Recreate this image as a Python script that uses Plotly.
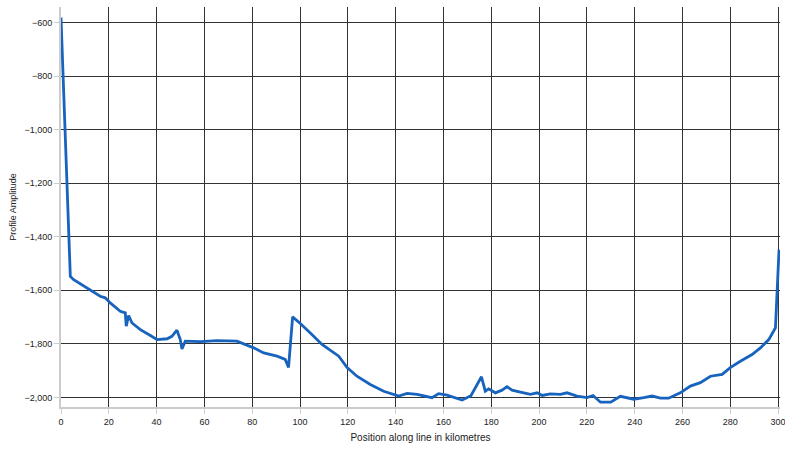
import plotly.graph_objects as go

position_km = [0, 0.4, 1.0, 1.8, 2.5, 3.2, 3.9, 5.3, 8.8, 11.5, 16.4, 18.5, 20.6, 24.8, 26.9, 27.3, 28.3,
               29.7, 33.2, 37.4, 40.2, 44.4, 46.4, 48.5, 49.9, 50.6, 52.0, 58.3, 65.3, 73.6, 76.4,
               80.6, 84.8, 90.4, 93.8, 95.2, 96.9, 98.7, 100.1, 104.3, 109.2, 116.2, 119.7, 123.8,
               129.4, 135.0, 139.2, 141.3, 144.8, 149.0, 155.2, 158.0, 161.5, 164.3, 167.8, 171.5,
               174.1, 175.9, 177.5, 178.9, 181.7, 184.5, 186.6, 188.7, 192.2, 196.4, 199.2, 201.3,
               204.7, 208.9, 211.7, 215.9, 220.1, 222.6, 225.7, 230.0, 234.0, 239.6, 243.8, 247.3,
               250.8, 254.2, 259.1, 263.3, 267.5, 271.7, 276.6, 280.0, 284.2, 289.1, 292.6, 296.1,
               298.9, 299.3, 299.7, 300.4]
amplitude = [-580, -677, -801, -1000, -1199, -1398, -1548, -1560, -1579, -1597, -1622, -1628, -1647,
             -1678, -1684, -1734, -1694, -1722, -1747, -1769, -1784, -1781, -1772, -1749, -1784,
             -1819, -1790, -1792, -1788, -1790, -1799, -1815, -1834, -1846, -1858, -1888, -1699,
             -1712, -1724, -1759, -1802, -1846, -1889, -1921, -1952, -1977, -1989, -1995, -1985,
             -1989, -2001, -1986, -1992, -2001, -2010, -1994, -1952, -1923, -1977, -1968, -1983,
             -1973, -1960, -1973, -1980, -1989, -1983, -1993, -1987, -1989, -1983, -1995, -2001,
             -1993, -2018, -2018, -1996, -2007, -2001, -1995, -2003, -2003, -1983, -1958, -1945,
             -1921, -1914, -1889, -1865, -1840, -1815, -1784, -1740, -1660, -1535, -1448]

x_ticks = list(range(0, 301, 20))
y_ticks = [-600, -800, -1000, -1200, -1400, -1600, -1800, -2000]

fig = go.Figure()
fig.add_trace(go.Scatter(x=position_km, y=amplitude, mode="lines",
                         line=dict(color="#1763bd", width=2.8), showlegend=False,
                         hoverinfo="x+y"))

axis_font = dict(family="Liberation Sans, Arial, sans-serif", size=10, color="#222222")
fig.update_layout(
    width=785, height=457,
    margin=dict(l=61, r=5, t=7, b=50, autoexpand=False),
    paper_bgcolor="white", plot_bgcolor="white",
    font=axis_font,
    xaxis=dict(range=[0, 300.8], tickvals=x_ticks, showgrid=True, gridcolor="#333333",
               gridwidth=1.3, zeroline=False, showline=True, linecolor="#cccccc", linewidth=2,
               ticks="outside", ticklen=5, tickcolor="#cccccc", ticklabeloverflow="allow",
               automargin=False,
               tickfont=dict(size=9, color="#222222"),
               title=dict(text="Position along line in kilometres", font=dict(size=10), standoff=8)),
    yaxis=dict(range=[-2036, -541], tickvals=y_ticks, tickformat=",", showgrid=True,
               gridcolor="#333333", gridwidth=1.3, zeroline=False, showline=True,
               linecolor="#cccccc", linewidth=2, ticks="outside", ticklen=5, tickcolor="#cccccc",
               automargin=False,
               tickfont=dict(size=9, color="#222222"),
               title=dict(text="Profile Amplitude", font=dict(size=9), standoff=6)),
)

fig.write_html("out.html", config={"displayModeBar": False})

# remove the browser's default body margin so the figure fills the window exactly
with open("out.html", "r", encoding="utf-8") as f:
    html = f.read()
html = html.replace("<head>", "<head><style>html,body{margin:0;padding:0;overflow:hidden;}</style>", 1)
with open("out.html", "w", encoding="utf-8") as f:
    f.write(html)
